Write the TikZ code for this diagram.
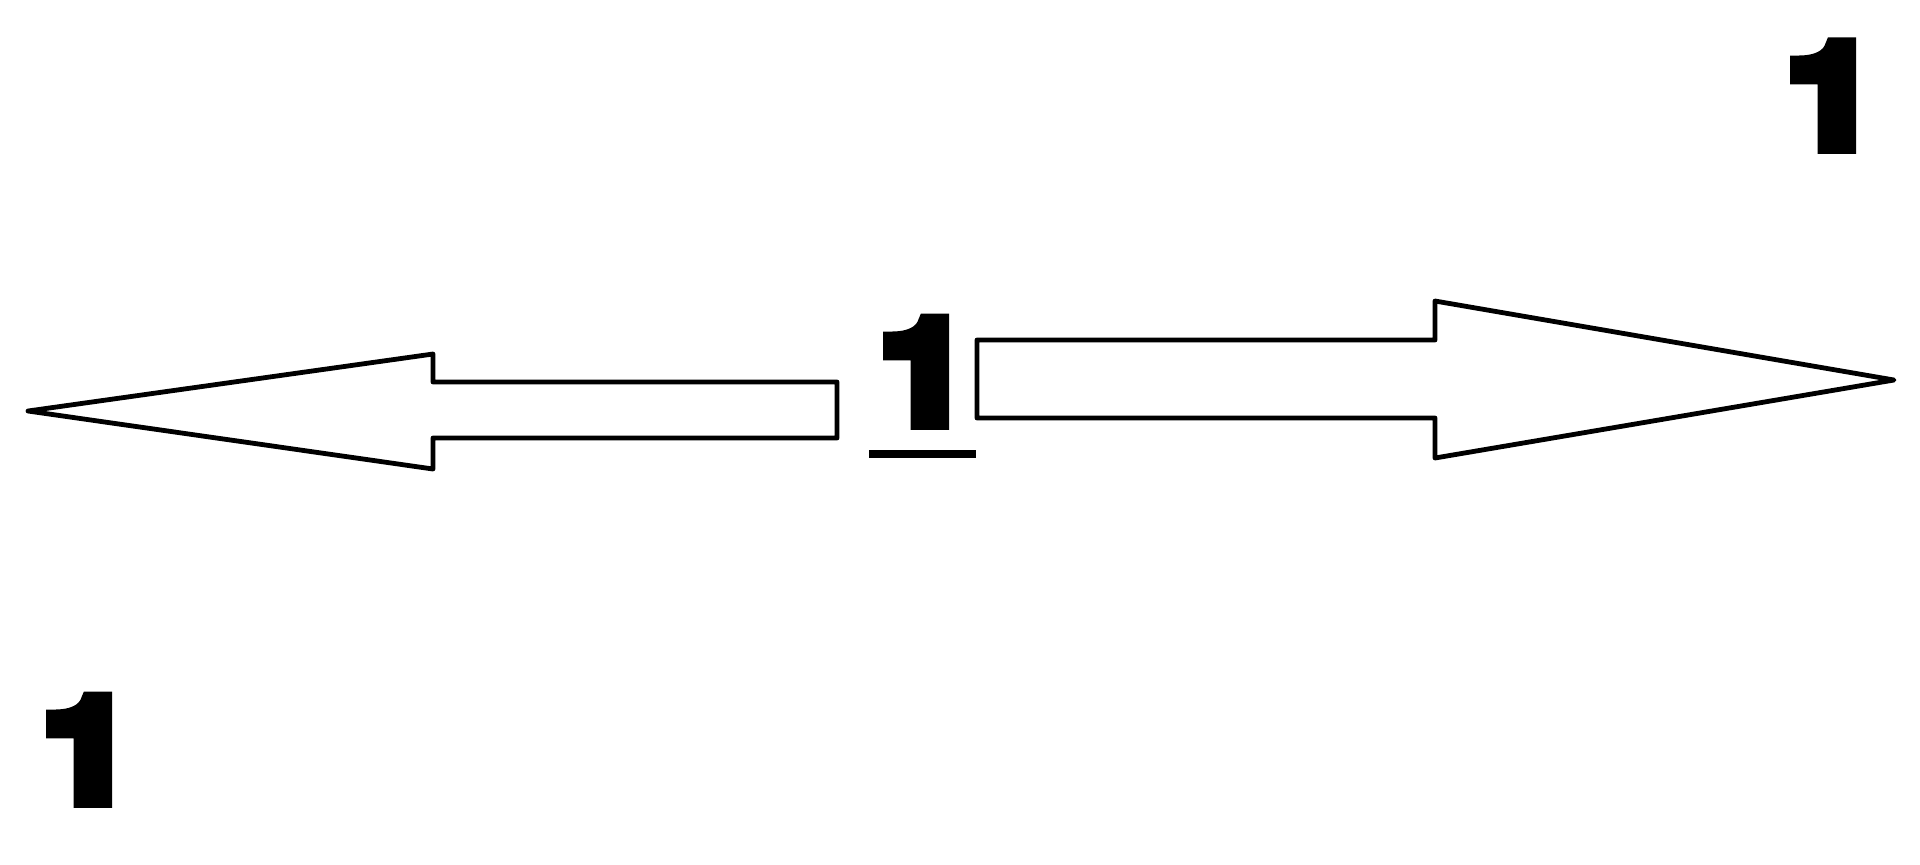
\documentclass[tikz,border=0pt]{standalone}
\usepackage{fontspec}
\setmainfont{TeX Gyre Heros}
\newfontfamily\heavyfont[FakeBold=11,FakeStretch=1.14]{TeX Gyre Heros Bold}
\begin{document}
\begin{tikzpicture}[x=0.5pt,y=-0.5pt,
  outline/.style={draw=black,line width=2.4pt,line join=round,fill=white},
  digit/.style={inner sep=0pt,anchor=base,font=\heavyfont\fontsize{71}{71}\selectfont}]
\useasboundingbox (0,0) rectangle (1920,864);
% left arrow
\draw[outline] (28,411) -- (433,354) -- (433,382) -- (837,382) -- (837,438) -- (433,438) -- (433,469) -- cycle;
% right arrow
\draw[outline] (1894,380) -- (1435,301) -- (1435,340) -- (977,340) -- (977,418) -- (1435,418) -- (1435,458) -- cycle;
% digits
\node[digit] (c) at (925,422) {1};
\node[digit] (tr) at (1832,146) {1};
\node[digit] (bl) at (88,800) {1};
% underline
\fill[black] (869,450) rectangle (976,458);
\end{tikzpicture}
\end{document}
